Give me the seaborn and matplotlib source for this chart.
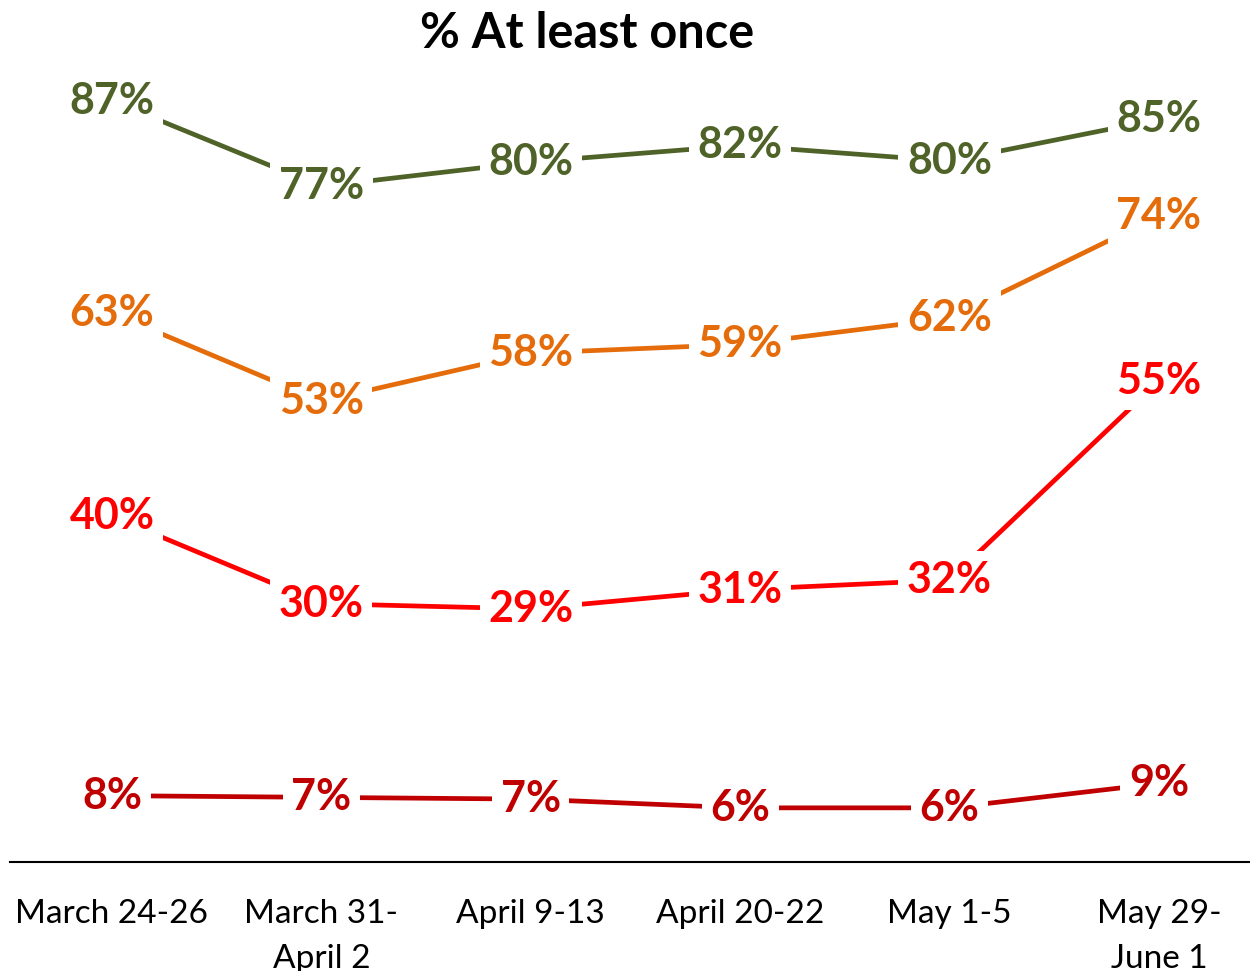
"""Line chart: % At least once, by survey wave."""

import matplotlib.pyplot as plt
import numpy as np
import pandas as pd
import seaborn as sns

waves = ['March 24-26', 'March 31-\nApril 2', 'April 9-13', 'April 20-22',
         'May 1-5', 'May 29-\nJune 1']
series_names = ['s1', 's2', 's3', 's4']
s1 = [87.2, 77.4, 80.2, 82.1, 80.3, 85.1]
s2 = [62.9, 52.8, 58.3, 59.3, 62.3, 74.0]
s3 = [39.6, 29.6, 29.0, 31.2, 32.3, 55.1]
s4 = [7.6, 7.4, 7.2, 6.2, 6.2, 9.0]
colors = ['#4F6228', '#E46C0A', '#FF0000', '#C00000']

sns.set_theme(style='white')
plt.rcParams['font.family'] = ['Lato', 'DejaVu Sans']

rows = []
for name, vals in zip(series_names, [s1, s2, s3, s4]):
    for i, v in enumerate(vals):
        rows.append({'wave': i, 'value': v, 'series': name})
df = pd.DataFrame(rows)

fig = plt.figure(figsize=(12.5, 9.71), dpi=100)
ax = fig.add_axes([0.008, 0.1123, 0.992, 0.826])

sns.lineplot(data=df, x='wave', y='value', hue='series', palette=colors,
             linewidth=3.4, legend=False, ax=ax, zorder=1)

# data labels with white box so the lines break around them
for name, col in zip(series_names, colors):
    sub = df[df['series'] == name]
    for x, v in zip(sub['wave'], sub['value']):
        ax.text(x, v, f'{v:.0f}%', ha='center', va='center', color=col,
                fontsize=31, fontweight='bold', zorder=3,
                bbox=dict(boxstyle='square,pad=0.2', fc='white', ec='none'))

ax.set_xlim(-0.487, 5.435)
ax.set_ylim(0, 91.9)
ax.set_xticks(np.arange(len(waves)))
ax.set_xticklabels(waves, fontsize=24)
for lab in ax.get_xticklabels():
    lab.set_linespacing(1.62)
ax.tick_params(axis='x', length=0, pad=27, colors='black')
ax.set_yticks([])
ax.set_xlabel('')
ax.set_ylabel('')
sns.despine(ax=ax, left=True, top=True, right=True)
ax.spines['bottom'].set_color('black')
ax.spines['bottom'].set_linewidth(1.5)

fig.text(0.47, 0.966, '% At least once', ha='center', va='center',
         fontsize=35, fontweight='bold', color='black')

fig.savefig('out.png', dpi=100)
